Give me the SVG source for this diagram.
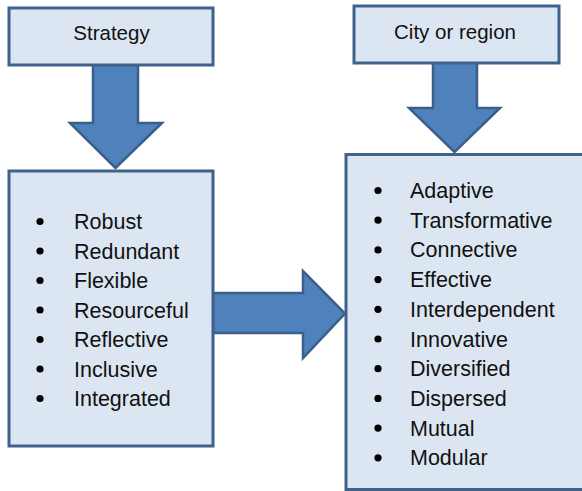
<svg xmlns="http://www.w3.org/2000/svg" width="582" height="491" viewBox="0 0 582 491">
<style>
.box{fill:#dce6f2;stroke:#3f628d;stroke-width:3}
.arr{fill:#4f81bd;stroke:#3a5f8b;stroke-width:2.5;stroke-linejoin:miter}
text{font-family:"Liberation Sans",Arial,sans-serif;fill:#111;}
.h{font-size:20.5px;text-anchor:middle}
.li{font-size:21.5px}
.b{fill:#000}
</style>
<rect width="582" height="491" fill="#fff"/>
<g id="connectors">
<path class="arr" d="M93,64 L138,64 L138,123 L162,123 L115.5,168 L70,123 L93,123 Z"/>
<path class="arr" d="M433,62 L477,62 L477,108 L500,108 L454.5,152 L409,108 L433,108 Z"/>
<path class="arr" d="M213,293 L303,293 L303,271 L345,313.5 L303,358 L303,333 L213,333 Z"/>
</g>
<g id="strategy">
<rect class="box" x="9" y="8" width="204" height="57"/>
<text class="h" x="111.5" y="40">Strategy</text>
</g>
<g id="city">
<rect class="box" x="354" y="6" width="205" height="57"/>
<text class="h" x="455" y="39">City or region</text>
</g>
<g id="strategy-list">
<rect class="box" x="9" y="171" width="204" height="275"/>
<g class="b">
<circle cx="40" cy="221.5" r="3.6"/><circle cx="40" cy="251" r="3.6"/><circle cx="40" cy="280.5" r="3.6"/><circle cx="40" cy="310" r="3.6"/><circle cx="40" cy="339.5" r="3.6"/><circle cx="40" cy="369" r="3.6"/><circle cx="40" cy="398.5" r="3.6"/>
</g>
<text class="li" x="74" y="229">Robust</text>
<text class="li" x="74" y="258.5">Redundant</text>
<text class="li" x="74" y="288">Flexible</text>
<text class="li" x="74" y="317.5">Resourceful</text>
<text class="li" x="74" y="347">Reflective</text>
<text class="li" x="74" y="376.5">Inclusive</text>
<text class="li" x="74" y="406">Integrated</text>
</g>
<g id="city-list">
<rect class="box" x="346" y="154.5" width="250" height="335"/>
<g class="b">
<circle cx="378" cy="190.5" r="3.6"/><circle cx="378" cy="220.2" r="3.6"/><circle cx="378" cy="249.9" r="3.6"/><circle cx="378" cy="279.6" r="3.6"/><circle cx="378" cy="309.3" r="3.6"/><circle cx="378" cy="339" r="3.6"/><circle cx="378" cy="368.7" r="3.6"/><circle cx="378" cy="398.4" r="3.6"/><circle cx="378" cy="428.1" r="3.6"/><circle cx="378" cy="457.8" r="3.6"/>
</g>
<text class="li" x="410" y="198">Adaptive</text>
<text class="li" x="410" y="227.7">Transformative</text>
<text class="li" x="410" y="257.4">Connective</text>
<text class="li" x="410" y="287.1">Effective</text>
<text class="li" x="410" y="316.8">Interdependent</text>
<text class="li" x="410" y="346.5">Innovative</text>
<text class="li" x="410" y="376.2">Diversified</text>
<text class="li" x="410" y="405.9">Dispersed</text>
<text class="li" x="410" y="435.6">Mutual</text>
<text class="li" x="410" y="465.3">Modular</text>
</g>
</svg>
